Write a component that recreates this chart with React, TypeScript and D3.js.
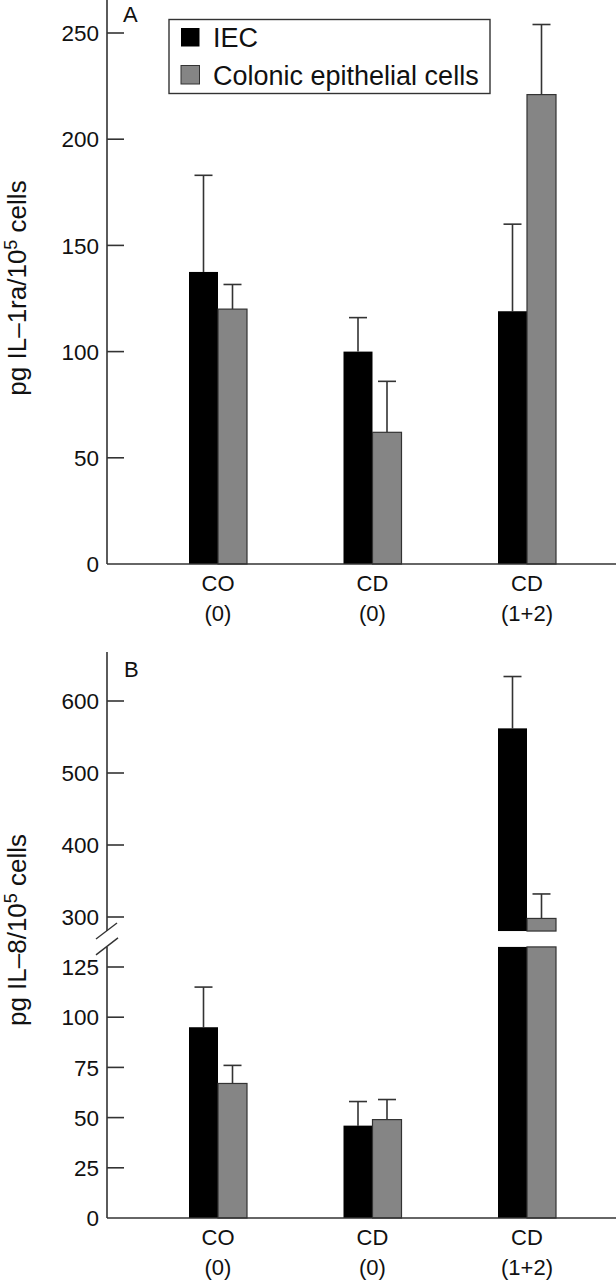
import React from "react";
import * as d3 from "d3";

const categories = ["CO|(0)", "CD|(0)", "CD|(1+2)"];
const seriesNames = ["IEC", "Colonic epithelial cells"];
const seriesColors = ["#000000", "#858585"];

// Panel A: IL-1ra
const aIEC = [137.5, 100, 119];
const aIECErr = [183, 116, 160];
const aCol = [120, 62, 221];
const aColErr = [131.6, 86, 254];
const aTicks = [0, 50, 100, 150, 200, 250];

// Panel B: IL-8
const bIEC = [95, 46, 562];
const bIECErr = [115, 58, 634];
const bCol = [67, 49, 298];
const bColErr = [76, 59, 332];
const bUpperTicks = [300, 400, 500, 600];
const bLowerTicks = [0, 25, 50, 75, 100, 125];

const FONT = "'Liberation Sans', Arial, Helvetica, sans-serif";
const AX = "#333";
const AXIS_X = 107;
const BAR_W = 29;
const TICK_LEN = 17;
const TICK_FS = 22.5;

const xScale = d3.scalePoint<string>().domain(categories).range([218, 527]);

function ErrorBar({ x, y0, y1 }: { x: number; y0: number; y1: number }) {
  return (
    <g stroke={AX} strokeWidth={1.6}>
      <line x1={x} x2={x} y1={y0} y2={y1} />
      <line x1={x - 9} x2={x + 9} y1={y1} y2={y1} />
    </g>
  );
}

function CatLabels({ y }: { y: number }) {
  return (
    <g fontFamily={FONT} fontSize={22} fill="#111" textAnchor="middle">
      {categories.map((c) => {
        const [a, b] = c.split("|");
        const x = xScale(c)!;
        return (
          <g key={c}>
            <text x={x} y={y}>{a}</text>
            <text x={x} y={y + 30}>{b}</text>
          </g>
        );
      })}
    </g>
  );
}

function YLabel({ cx, cy, main }: { cx: number; cy: number; main: string }) {
  return (
    <text
      transform={`translate(${cx},${cy}) rotate(-90)`}
      fontFamily={FONT}
      fontSize={26}
      fill="#111"
      textAnchor="middle"
    >
      {main}
      <tspan dy={-9} fontSize={18}>5</tspan>
      <tspan dy={9}> cells</tspan>
    </text>
  );
}

function PanelA() {
  const y = d3.scaleLinear().domain([0, 250]).range([564, 33]);
  const series = [
    { v: aIEC, e: aIECErr },
    { v: aCol, e: aColErr },
  ];
  return (
    <g>
      {series.map((s, si) =>
        categories.map((c, i) => {
          const cx = xScale(c)!;
          const x0 = si === 0 ? cx - BAR_W : cx;
          return (
            <g key={`${si}-${i}`}>
              <ErrorBar x={x0 + BAR_W / 2} y0={y(s.v[i])} y1={y(s.e[i])} />
              <rect
                x={x0}
                y={y(s.v[i])}
                width={BAR_W}
                height={y(0) - y(s.v[i])}
                fill={seriesColors[si]}
                stroke={si === 1 ? AX : "none"}
                strokeWidth={1.2}
              />
            </g>
          );
        })
      )}
      <line x1={AXIS_X} x2={AXIS_X} y1={0} y2={y(0)} stroke={AX} strokeWidth={1.6} />
      <line x1={AXIS_X} x2={616} y1={y(0)} y2={y(0)} stroke={AX} strokeWidth={1.6} />
      {aTicks.map((t) => (
        <g key={t}>
          {t > 0 && (
            <line x1={AXIS_X} x2={AXIS_X + TICK_LEN} y1={y(t)} y2={y(t)} stroke={AX} strokeWidth={1.6} />
          )}
          <text
            x={AXIS_X - 8}
            y={y(t)}
            dy="0.36em"
            textAnchor="end"
            fontFamily={FONT}
            fontSize={TICK_FS}
            fill="#111"
          >
            {t}
          </text>
        </g>
      ))}
      <text x={123} y={22} fontFamily={FONT} fontSize={22} fill="#111">A</text>
      <rect x={169} y={19.5} width={321} height={74} fill="#fff" stroke={AX} strokeWidth={1.4} />
      {seriesNames.map((n, i) => (
        <g key={n}>
          <rect
            x={181}
            y={28 + i * 37.5}
            width={18.5}
            height={18.5}
            fill={seriesColors[i]}
            stroke={i === 1 ? AX : "none"}
            strokeWidth={1}
          />
          <text x={213} y={47 + i * 37.5} fontFamily={FONT} fontSize={27} fill="#111">
            {n}
          </text>
        </g>
      ))}
      <CatLabels y={591} />
      <YLabel cx={26} cy={288} main="pg IL–1ra/10" />
    </g>
  );
}

function PanelB() {
  const yU = d3.scaleLinear().domain([300, 600]).range([917, 701]);
  const yL = d3.scaleLinear().domain([0, 125]).range([1218, 967]);
  const uBottom = yU(280.5);
  const lTop = yL(135);
  const series = [
    { v: bIEC, e: bIECErr },
    { v: bCol, e: bColErr },
  ];
  return (
    <g>
      {series.map((s, si) =>
        categories.map((c, i) => {
          const cx = xScale(c)!;
          const x0 = si === 0 ? cx - BAR_W : cx;
          const v = s.v[i];
          const broken = v > 135;
          const topY = broken ? yU(v) : yL(v);
          const errY = s.e[i] > 135 ? yU(s.e[i]) : yL(s.e[i]);
          const common = {
            fill: seriesColors[si],
            stroke: si === 1 ? AX : "none",
            strokeWidth: 1.2,
          };
          return (
            <g key={`${si}-${i}`}>
              <ErrorBar x={x0 + BAR_W / 2} y0={topY} y1={errY} />
              {broken ? (
                <>
                  <rect x={x0} y={topY} width={BAR_W} height={uBottom - topY} {...common} />
                  <rect x={x0} y={lTop} width={BAR_W} height={yL(0) - lTop} {...common} />
                </>
              ) : (
                <rect x={x0} y={topY} width={BAR_W} height={yL(0) - topY} {...common} />
              )}
            </g>
          );
        })
      )}
      <line x1={AXIS_X} x2={AXIS_X} y1={652} y2={uBottom} stroke={AX} strokeWidth={1.6} />
      <line x1={AXIS_X} x2={AXIS_X} y1={lTop} y2={yL(0)} stroke={AX} strokeWidth={1.6} />
      <line x1={AXIS_X} x2={616} y1={yL(0)} y2={yL(0)} stroke={AX} strokeWidth={1.6} />
      <line x1={96} x2={117} y1={uBottom + 8} y2={uBottom - 8} stroke={AX} strokeWidth={1.4} />
      <line x1={96} x2={118} y1={lTop + 8} y2={lTop - 9} stroke={AX} strokeWidth={1.4} />
      {bUpperTicks.map((t) => (
        <g key={`u${t}`}>
          <line x1={AXIS_X} x2={AXIS_X + TICK_LEN} y1={yU(t)} y2={yU(t)} stroke={AX} strokeWidth={1.6} />
          <text x={AXIS_X - 8} y={yU(t)} dy="0.36em" textAnchor="end" fontFamily={FONT} fontSize={TICK_FS} fill="#111">
            {t}
          </text>
        </g>
      ))}
      {bLowerTicks.map((t) => (
        <g key={`l${t}`}>
          {t > 0 && (
            <line x1={AXIS_X} x2={AXIS_X + TICK_LEN} y1={yL(t)} y2={yL(t)} stroke={AX} strokeWidth={1.6} />
          )}
          <text x={AXIS_X - 8} y={yL(t)} dy="0.36em" textAnchor="end" fontFamily={FONT} fontSize={TICK_FS} fill="#111">
            {t}
          </text>
        </g>
      ))}
      <text x={124} y={677} fontFamily={FONT} fontSize={22} fill="#111">B</text>
      <CatLabels y={1245} />
      <YLabel cx={26} cy={930} main="pg IL–8/10" />
    </g>
  );
}

export default function App() {
  return (
    <svg
      width={616}
      height={1280}
      style={{ position: "absolute", left: 0, top: 0, background: "#fff" }}
    >
      <rect width={616} height={1280} fill="#fff" />
      <PanelA />
      <PanelB />
    </svg>
  );
}
